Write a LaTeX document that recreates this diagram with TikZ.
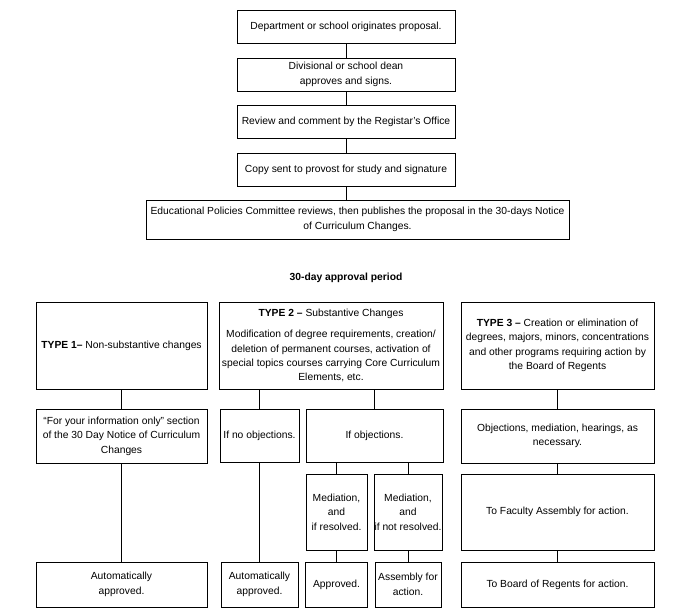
\documentclass[tikz,border=0pt]{standalone}
\usepackage{fontspec}
\setmainfont{Liberation Sans}

\begin{document}
\begin{tikzpicture}[x=1pt, y=-1pt, line width=0.9pt,
    box/.style 2 args={draw, align=center, inner xsep=0.5pt, inner ysep=1pt, minimum width=#1, minimum height=#2,
        font=\fontsize{10.3}{14.4}\selectfont}]
    \useasboundingbox (0,0) rectangle (691,613);

    \node[box={218pt}{33pt}] (orig) at (346,26.5) {Department or school originates proposal.};
    \node[box={218pt}{33pt}] (dean) at (346,74.5) {Divisional or school dean\\approves and signs.};
    \node[box={218pt}{33pt}] (reg) at (346,121.5) {Review and comment by the Registar’s Office};
    \node[box={218pt}{33pt}] (prov) at (346,169.5) {Copy sent to provost for study and signature};
    \node[box={423pt}{39pt}] (epc) at (357.5,219.5) {Educational Policies Committee reviews, then publishes the proposal in the 30-days Notice\\of Curriculum Changes.};
    \node[font=\fontsize{10.3}{12}\selectfont] (period) at (346,278) {\textbf{30-day approval period}};

    \node[box={171pt}{87pt}] (t1) at (121.5,345.5) {\textbf{TYPE 1–} Non-substantive changes};
    \node[box={224pt}{87pt}] (t2) at (331,345.5) {\textbf{TYPE 2 –} Substantive Changes\\[7pt]Modification of degree requirements, creation/\\deletion of permanent courses, activation of\\special topics courses carrying Core Curriculum\\Elements, etc.};
    \node[box={193pt}{87pt}] (t3) at (557.5,345.5) {\textbf{TYPE 3 –} Creation or elimination of\\degrees, majors, minors, concentrations\\and other programs requiring action by\\the Board of Regents};

    \node[box={171pt}{54pt}] (fyi) at (121.5,436) {“For your information only” section\\of the 30 Day Notice of Curriculum\\Changes};
    \node[box={79pt}{53pt}] (noobj) at (259.5,435.5) {If no objections.};
    \node[box={137pt}{53pt}] (obj) at (374.5,435.5) {If objections.};
    \node[box={193pt}{54pt}] (t3obj) at (557.5,436) {Objections, mediation, hearings, as\\necessary.};

    \node[box={61pt}{76pt}] (med1) at (336.5,512) {Mediation,\\and\\if resolved.};
    \node[box={68pt}{76pt}] (med2) at (408,512) {Mediation,\\and\\if not resolved.};
    \node[box={193pt}{76pt}] (fac) at (557.5,512) {To Faculty Assembly for action.};

    \node[box={171pt}{45pt}] (auto1) at (121.5,584.5) {Automatically\\approved.};
    \node[box={77pt}{45pt}] (auto2) at (259.5,584.5) {Automatically\\approved.};
    \node[box={62pt}{45pt}] (appr) at (336.5,584.5) {Approved.};
    \node[box={66pt}{45pt}] (asm) at (408,584.5) {Assembly for\\action.};
    \node[box={193pt}{45pt}] (bor) at (557.5,584.5) {To Board of Regents for action.};

    \draw (orig) -- (dean);
    \draw (dean) -- (reg);
    \draw (reg) -- (prov);
    \draw (prov) -- (prov |- epc.north);

    \draw (t1) -- (fyi);
    \draw (fyi) -- (auto1);
    \draw (noobj.north |- t2.south) -- (noobj);
    \draw (obj.north |- t2.south) -- (obj);
    \draw (noobj) -- (auto2);
    \draw (med1.north |- obj.south) -- (med1);
    \draw (med2.north |- obj.south) -- (med2);
    \draw (med1) -- (appr);
    \draw (med2) -- (asm);
    \draw (t3) -- (t3obj);
    \draw (t3obj) -- (fac);
    \draw (fac) -- (bor);
\end{tikzpicture}
\end{document}
